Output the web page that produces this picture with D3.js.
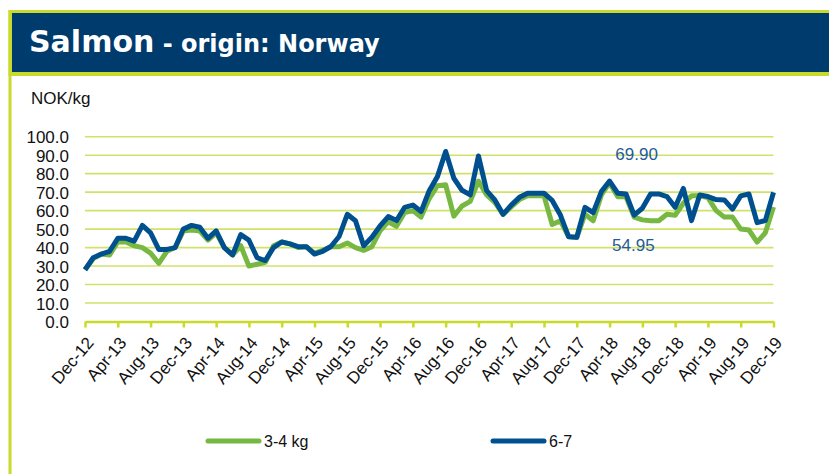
<!DOCTYPE html>
<html><head><meta charset="utf-8">
<script src="https://cdn.jsdelivr.net/npm/d3@7"></script>
<style>
html,body{margin:0;padding:0;background:#fff;}
svg{display:block;}
</style></head>
<body>
<svg id="chart" width="829" height="474"></svg>
<script>
// ---- data ----
const tickLabels = ["Dec-12","Apr-13","Aug-13","Dec-13","Apr-14","Aug-14","Dec-14","Apr-15","Aug-15","Dec-15","Apr-16","Aug-16","Dec-16","Apr-17","Aug-17","Dec-17","Apr-18","Aug-18","Dec-18","Apr-19","Aug-19","Dec-19"];
const yTicks = [0,10,20,30,40,50,60,70,80,90,100];
const seriesNames = ["3-4 kg","6-7"];
// monthly prices NOK/kg, Dec-12 .. Dec-19
const small = [28,34,36.5,36,43,43,41,40,37,31.5,38,40,49,49.5,49,44,48,40,36,41,30,31,32,41,
  43,42,40,40.5,37,38.5,40.5,40.5,42.5,40,38.5,40.5,49,54,51.5,59,60,56.5,66.5,73.5,74,57,62.5,65,76,
  68.5,64.5,58,62,66,68,68,68,52.5,54.5,46,45.5,58,54.5,68.5,75,67.5,67.5,56.5,55,54.5,54.5,58,57.5,
  64,68,68,67,60,56.5,56.5,50,49.5,43,48,62];
const large = [28,34.5,36.5,38,45,45,43.5,52,48,39,39,40,50,52,51,45,49,40,36,47,44,34.5,33,40,
  43,42,40.5,40.5,36.5,38,40.6,46,58,54.5,41,45.6,51.7,56.8,54.6,61.8,63,59.5,70.8,78.4,92,77.5,71,68.5,89.6,
  70.8,65.8,58,63,67.2,69.4,69.4,69.4,65.5,57.6,45.9,45.6,61.8,58.9,70.3,76,69.4,69,57.6,61.3,69,69,67.6,61.8,
  72,54.6,68.5,67.6,66,65.8,60.8,68,69,53.5,54.6,69.9];
const annotations = [{text:"69.90", value:90.6, idx:67.3},{text:"54.95", value:41.5, idx:66.9}];

const colors = {green:"#77b843", blue:"#00508f", navy:"#003b6e", lime:"#c8da2b", grid:"#d2e16a"};

const svg = d3.select("#chart");

// frame / header
svg.append("rect").attr("x",8.5).attr("y",10).attr("width",830).attr("height",66).attr("fill",colors.lime);
svg.append("rect").attr("x",12).attr("y",13).attr("width",830).attr("height",59).attr("fill",colors.navy);
svg.append("rect").attr("x",8.5).attr("y",10).attr("width",3).attr("height",470).attr("fill",colors.lime);

const title = svg.append("text").attr("x",29).attr("y",52).attr("fill","#fff")
  .style("font-family","'DejaVu Sans', Verdana, sans-serif").style("font-weight","bold");
title.append("tspan").attr("font-size","30px").text("Salmon");
title.append("tspan").attr("font-size","24px").text(" - origin: Norway");

svg.append("text").attr("x",31).attr("y",104).text("NOK/kg")
  .style("font-family","'Liberation Sans', Arial, sans-serif").style("font-size","17px").attr("fill","#111");

// scales
const x = d3.scaleLinear().domain([0, large.length-1]).range([85, 773.5]);
const y = d3.scaleLinear().domain([0,100]).range([321.5, 136.7]);

// grid
const g = svg.append("g");
g.selectAll("line.grid").data(yTicks.filter(d=>d>0)).join("line")
  .attr("x1",85).attr("x2",773.5).attr("y1",d=>y(d)).attr("y2",d=>y(d))
  .attr("stroke",colors.grid).attr("stroke-width",1.6);

// y axis labels
const yAxis = d3.axisLeft(y).tickValues(yTicks).tickFormat(d=>d.toFixed(1)).tickSize(0).tickPadding(0);
const ya = svg.append("g").attr("transform","translate(69,0)").call(yAxis);
ya.select(".domain").remove();
ya.selectAll("text").style("font-family","'Liberation Sans', Arial, sans-serif").style("font-size","17px").attr("fill","#111").attr("dy","0.36em");

// x axis
const xTickIdx = tickLabels.map((d,i)=>i*4);
const xAxis = d3.axisBottom(x).tickValues(xTickIdx).tickFormat((d,i)=>tickLabels[i]).tickSize(6).tickSizeOuter(0);
const xa = svg.append("g").attr("transform",`translate(0,${y(0)})`).call(xAxis);
xa.select(".domain").attr("stroke",colors.lime).attr("stroke-width",2.5);
xa.selectAll(".tick line").attr("stroke",colors.lime).attr("stroke-width",2.5);
xa.selectAll(".tick text")
  .style("font-family","'Liberation Sans', Arial, sans-serif").style("font-size","17px").attr("fill","#111")
  .attr("text-anchor","end").attr("y",0).attr("dy","0.7em")
  .attr("transform","translate(0,14) rotate(-50)");

// lines
const line = d3.line().x((d,i)=>x(i)).y(d=>y(d));
svg.append("path").datum(small).attr("d",line).attr("fill","none")
  .attr("stroke",colors.green).attr("stroke-width",5).attr("stroke-linejoin","round");
svg.append("path").datum(large).attr("d",line).attr("fill","none")
  .attr("stroke",colors.blue).attr("stroke-width",5).attr("stroke-linejoin","round");

// annotations
svg.selectAll("text.ann").data(annotations).join("text").attr("class","ann")
  .attr("x",d=>x(d.idx)).attr("y",d=>y(d.value)).attr("text-anchor","middle").attr("dy","0.36em")
  .style("font-family","'Liberation Sans', Arial, sans-serif").style("font-size","17px").attr("fill","#1f5c99")
  .text(d=>d.text);

// legend
const legend = [{name:seriesNames[0], c:colors.green, x:206},{name:seriesNames[1], c:colors.blue, x:491}];
const lg = svg.selectAll("g.lg").data(legend).join("g").attr("class","lg").attr("transform",d=>`translate(${d.x},441)`);
lg.append("line").attr("x1",2).attr("x2",53).attr("y1",0).attr("y2",0).attr("stroke",d=>d.c).attr("stroke-width",5).attr("stroke-linecap","round");
lg.append("text").attr("x",58).attr("y",6).text(d=>d.name)
  .style("font-family","'Liberation Sans', Arial, sans-serif").style("font-size","16px").attr("fill","#111");
</script>
</body></html>
